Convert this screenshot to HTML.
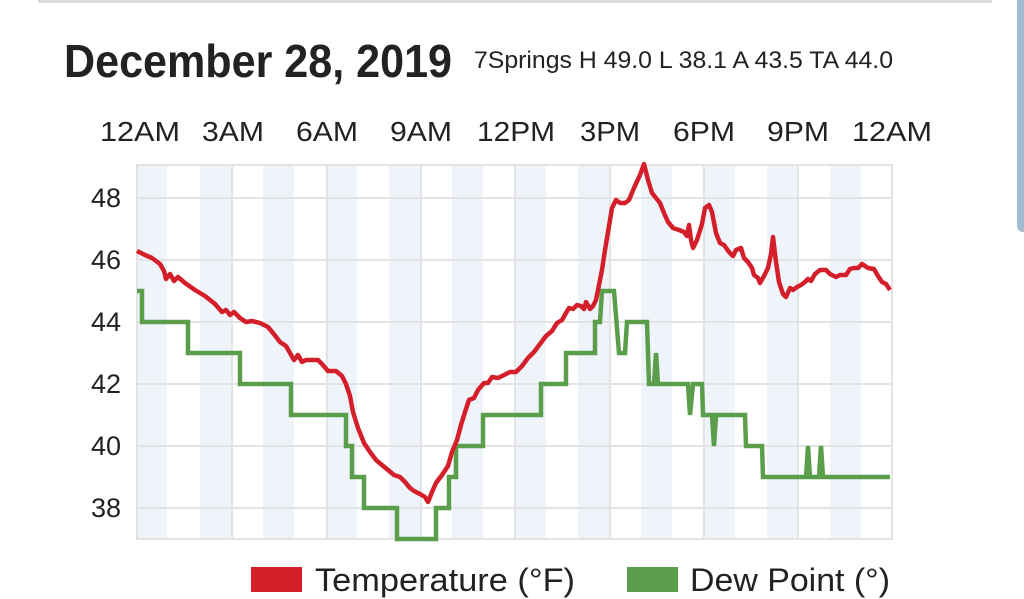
<!DOCTYPE html>
<html><head><meta charset="utf-8"><style>
html,body{margin:0;padding:0;background:#fff;}
body{width:1024px;height:599px;overflow:hidden;position:relative;font-family:"Liberation Sans",Arial,sans-serif;}
</style></head><body>
<svg width="1024" height="599" viewBox="0 0 1024 599" xmlns="http://www.w3.org/2000/svg" style="position:absolute;left:0;top:0">
<rect x="38" y="0" width="954" height="3" fill="#dcdcdc"/>
<path d="M1017 0 H1024 V232 H1024 Q1017 232 1017 225 Z" fill="#a3bbd1"/>
<text x="64" y="77" font-size="46" font-weight="bold" fill="#222" textLength="388" lengthAdjust="spacingAndGlyphs">December 28, 2019</text>
<text x="474" y="68" font-size="24" fill="#222" textLength="419" lengthAdjust="spacingAndGlyphs">7Springs H 49.0 L 38.1 A 43.5 TA 44.0</text>
<g font-size="28" fill="#222" text-anchor="middle" lengthAdjust="spacingAndGlyphs">
<text x="140" y="141" textLength="80" lengthAdjust="spacingAndGlyphs">12AM</text><text x="233" y="141" textLength="62" lengthAdjust="spacingAndGlyphs">3AM</text><text x="327" y="141" textLength="62" lengthAdjust="spacingAndGlyphs">6AM</text><text x="421" y="141" textLength="62" lengthAdjust="spacingAndGlyphs">9AM</text><text x="516" y="141" textLength="78" lengthAdjust="spacingAndGlyphs">12PM</text><text x="610" y="141" textLength="60" lengthAdjust="spacingAndGlyphs">3PM</text><text x="704" y="141" textLength="62" lengthAdjust="spacingAndGlyphs">6PM</text><text x="798" y="141" textLength="62" lengthAdjust="spacingAndGlyphs">9PM</text><text x="892" y="141" textLength="80" lengthAdjust="spacingAndGlyphs">12AM</text>
</g>
<g fill="#eef4fa">
<rect x="137" y="165" width="30" height="374"/><rect x="200" y="165" width="31" height="374"/><rect x="263" y="165" width="31" height="374"/><rect x="326" y="165" width="31" height="374"/><rect x="389" y="165" width="31" height="374"/><rect x="452" y="165" width="31" height="374"/><rect x="515" y="165" width="31" height="374"/><rect x="578" y="165" width="31" height="374"/><rect x="641" y="165" width="31" height="374"/><rect x="704" y="165" width="31" height="374"/><rect x="767" y="165" width="31" height="374"/><rect x="830" y="165" width="31" height="374"/>
</g>
<g stroke="#e3e3e3" stroke-width="2" fill="none">
<rect x="137" y="165" width="755" height="374"/>
<line x1="137" x2="892" y1="198" y2="198"/><line x1="137" x2="892" y1="260" y2="260"/><line x1="137" x2="892" y1="322" y2="322"/><line x1="137" x2="892" y1="384" y2="384"/><line x1="137" x2="892" y1="446" y2="446"/><line x1="137" x2="892" y1="508" y2="508"/>
<line x1="232" x2="232" y1="165" y2="539"/><line x1="327" x2="327" y1="165" y2="539"/><line x1="421" x2="421" y1="165" y2="539"/><line x1="515" x2="515" y1="165" y2="539"/><line x1="610" x2="610" y1="165" y2="539"/><line x1="704" x2="704" y1="165" y2="539"/><line x1="798" x2="798" y1="165" y2="539"/>
</g>
<g font-size="27" fill="#222" text-anchor="end">
<text x="121" y="207">48</text><text x="121" y="269">46</text><text x="121" y="331">44</text><text x="121" y="393">42</text><text x="121" y="455">40</text><text x="121" y="517">38</text>
</g>
<polyline fill="none" stroke="#5a9e4b" stroke-width="4.5" stroke-linejoin="miter" points="137,291 142,291 142,322 188,322 188,353 240,353 240,384 291,384 291,415 346,415 346,446 352,446 352,477 364,477 364,508 397,508 397,539 436,539 436,508 449,508 449,477 456,477 456,446 483,446 483,415 541,415 541,384 566,384 566,353 595,353 595,322 600,322 602,291 614,291 619,353 625,353 627,322 647,322 649,384 654,384 656,353 658,384 688,384 690,415 693,384 702,384 703,415 712,415 714,446 716,415 745,415 746,446 762,446 763,477 806,477 808,446 810,477 819,477 821,446 823,477 890,477"/>
<polyline fill="none" stroke="#d41f2a" stroke-width="4.5" stroke-linejoin="round" points="137,251 145,255 152,258 160,264 164,271 166,279 170,274 174,281 178,277 185,283 195,290 205,296 215,304 222,312 226,310 230,315 234,312 240,318 246,322 252,321 260,323 268,327 273,333 280,342 286,346 290,353 294,360 298,355 302,362 306,360 318,360 322,364 328,371 336,371 342,376 346,384 350,396 353,412 358,428 364,443 370,452 376,460 382,465 388,470 394,475 400,477 405,482 410,488 414,491 420,494 425,497 428,502 432,492 436,483 442,475 448,466 452,452 457,440 461,425 465,412 469,400 474,398 478,390 484,383 488,383 492,377 498,378 504,375 510,372 516,372 522,366 528,358 534,352 540,344 546,336 552,331 557,323 562,320 566,313 569,308 573,309 577,305 581,306 584,309 586,302 590,309 593,306 596,300 599,285 602,270 605,250 608,232 612,208 616,200 620,203 625,203 629,200 634,188 640,175 644,164 648,180 652,193 656,198 660,203 664,213 668,222 673,228 679,230 684,232 687,236 689,225 691,240 693,248 697,240 702,224 705,208 709,205 712,212 716,233 720,243 724,245 729,252 733,256 736,250 741,248 744,258 748,262 752,268 754,275 758,278 760,283 764,276 768,268 771,254 773,237 776,262 779,282 783,294 786,297 790,288 793,290 797,287 801,285 805,282 808,279 811,281 815,274 820,270 826,270 830,274 836,277 840,275 846,275 850,269 854,268 858,268 862,264 868,268 874,269 878,276 882,282 886,284 890,290"/>
<rect x="251" y="567" width="51" height="25" fill="#d41f2a"/>
<text x="315" y="591" font-size="32" fill="#222" textLength="260" lengthAdjust="spacingAndGlyphs">Temperature (°F)</text>
<rect x="627" y="567" width="51" height="25" fill="#5a9e4b"/>
<text x="690" y="591" font-size="32" fill="#222" textLength="200" lengthAdjust="spacingAndGlyphs">Dew Point (°)</text>
</svg>
</body></html>
